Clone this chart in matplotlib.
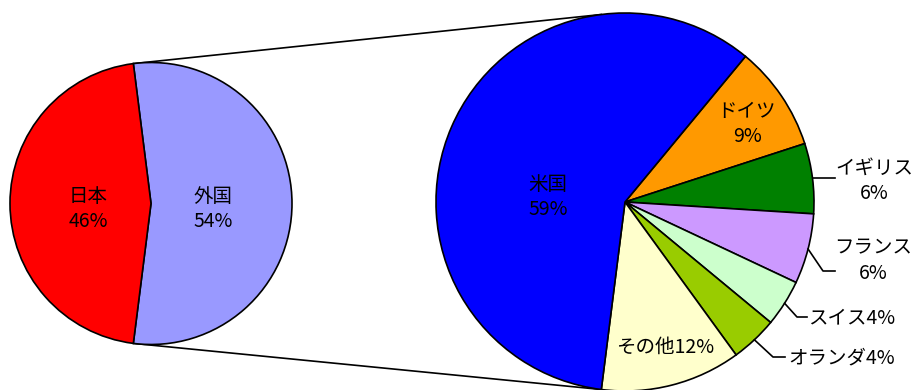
import numpy as np
import matplotlib.pyplot as plt

plt.rcParams['font.family'] = ['Noto Sans CJK JP', 'DejaVu Sans']

# 左の円
left_labels = ['外国', '日本']
left_values = [54, 46]
left_colors = ['#9999FF', '#FF0000']

# 右の円 (外国の内訳)
right_labels = ['ドイツ', 'イギリス', 'フランス', 'スイス', 'オランダ', 'その他', '米国']
right_values = [9, 6, 6, 4, 4, 12, 59]
right_colors = ['#FF9900', '#008000', '#CC99FF', '#CCFFCC', '#99CC00', '#FFFFCC', '#0000FF']

W, H = 914, 390
fig = plt.figure(figsize=(W / 100, H / 100), dpi=100)
ax = fig.add_axes([0, 0, 1, 1])

lc, lr = (151, H - 203.5), 141
rc, rr = (625, H - 202), 189

# 外国を右側中央に
half = 180 * left_values[0] / sum(left_values)
wp = dict(edgecolor='black', linewidth=1.2)
ax.pie(left_values, colors=left_colors, center=lc, radius=lr, startangle=half,
       counterclock=False, wedgeprops=wp)

# 米国以外の扇形の下端を左の円の境界に合わせる
others = sum(right_values[:-1]) / sum(right_values) * 360
r_start = -half + others
wedges, _ = ax.pie(right_values, colors=right_colors, center=rc, radius=rr,
                   startangle=r_start, counterclock=False, wedgeprops=wp)

# 接続線
for a in (half, -half):
    t = np.deg2rad(a)
    ax.plot([lc[0] + lr * np.cos(t), rc[0] + rr * np.cos(t)],
            [lc[1] + lr * np.sin(t), rc[1] + rr * np.sin(t)],
            color='black', lw=1.2, zorder=0)

fs = 14
ls = 1.3
# 内側ラベル
ax.text(88, H - 209, f'{left_labels[1]}\n{left_values[1]}%', ha='center', va='center', fontsize=fs, linespacing=ls)
ax.text(213, H - 209, f'{left_labels[0]}\n{left_values[0]}%', ha='center', va='center', fontsize=fs, linespacing=ls)
ax.text(548, H - 197, f'{right_labels[6]}\n{right_values[6]}%', ha='center', va='center', fontsize=fs, linespacing=ls)
ax.text(747, H - 124, f'{right_labels[0]}\n{right_values[0]}%', ha='center', va='center', fontsize=fs, linespacing=ls)
ax.text(665, H - 347, f'{right_labels[5]}{right_values[5]}%', ha='center', va='center', fontsize=fs)

# 外側ラベル (引き出し線付き)
outer = {
    1: dict(text=f'{right_labels[1]}\n{right_values[1]}%', pos=(874, 181), ha='center', elbow=None, end=835),
    2: dict(text=f'{right_labels[2]}\n{right_values[2]}%', pos=(873, 261), ha='center', elbow=(823, 271), end=835),
    3: dict(text=f'{right_labels[3]}{right_values[3]}%', pos=(808, 318), ha='left', elbow=(797, 317), end=807),
    4: dict(text=f'{right_labels[4]}{right_values[4]}%', pos=(788, 358), ha='left', elbow=(773, 357), end=785),
}
for i, o in outer.items():
    w = wedges[i]
    mid = np.deg2rad((w.theta1 + w.theta2) / 2)
    x0, y0 = rc[0] + rr * np.cos(mid), rc[1] + rr * np.sin(mid)
    if o['elbow'] is None:
        xs, ys = [x0, o['end']], [y0, y0]
    else:
        ex, ey = o['elbow'][0], H - o['elbow'][1]
        xs, ys = [x0, ex, o['end']], [y0, ey, ey]
    ax.plot(xs, ys, color='black', lw=1.2)
    ax.text(o['pos'][0], H - o['pos'][1], o['text'], ha=o['ha'], va='center',
            fontsize=fs, linespacing=ls)

ax.set_xlim(0, W)
ax.set_ylim(0, H)
ax.set_aspect('equal')
ax.axis('off')
fig.savefig('out.png', dpi=100)
